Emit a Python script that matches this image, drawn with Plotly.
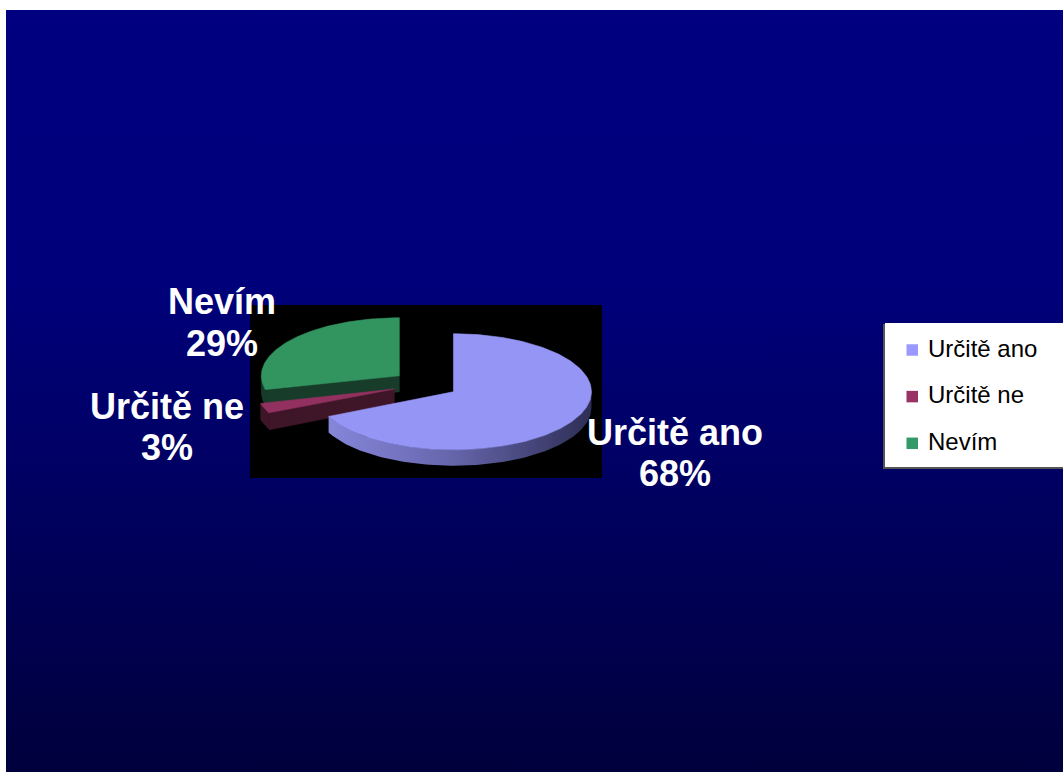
import numpy as np
import plotly.graph_objects as go

# Survey answers and their shares (percent)
labels = ["Určitě ano", "Určitě ne", "Nevím"]
shares = [68, 3, 29]

# Slice colours: top face, side face, legend swatch
top_colors = ["#9595F6", "#92305F", "#32945F"]
side_colors = ["#6a6ab4", "#3f1628", "#183c2a"]
legend_colors = ["#9999FF", "#993366", "#339966"]

W, H = 1063, 773

# Pie geometry (pixel units on the full-figure axes)
CX, CY = 425.5, 384.3
RX, RY = 138.0, 58.0
DEPTH = 16.0
EXPLODE = 0.24


def ell(cx, cy, theta, dy=0.0):
    t = np.radians(theta)
    return cx + RX * np.cos(t), cy - RY * np.sin(t) + dy


fig = go.Figure()

# Slide background with vertical gradient
fig.add_trace(go.Scatter(
    x=[6, W, W, 6, 6], y=[10, 10, 772, 772, 10],
    mode="none", fill="toself",
    fillgradient=dict(type="vertical", start=10, stop=772,
                      colorscale=[[0, "#000080"], [0.35, "#00007b"],
                                  [0.6, "#000064"], [1, "#00003c"]]),
    hoverinfo="skip", showlegend=False))

# Black plot area behind the pie
fig.add_trace(go.Scatter(
    x=[250, 602, 602, 250, 250], y=[305, 305, 478, 478, 305],
    mode="none", fill="toself", fillcolor="#000000",
    hoverinfo="skip", showlegend=False))

frac = np.array(shares, dtype=float) / sum(shares)
cum = np.concatenate([[0.0], np.cumsum(frac)])
t_start = 90 - 360 * cum[:-1]
t_end = 90 - 360 * cum[1:]
mid = (t_start + t_end) / 2
cxs = CX + EXPLODE * RX * np.cos(np.radians(mid))
cys = CY - EXPLODE * RY * np.sin(np.radians(mid))


def poly(xs, ys, color=None, gradient=None):
    kw = dict(x=list(xs), y=list(ys), mode="lines", fill="toself",
              line=dict(width=0.6, color=color if color else "rgba(0,0,0,0)"),
              hoverinfo="skip", showlegend=False)
    if gradient is not None:
        kw["fillgradient"] = gradient
        kw["line"] = dict(width=0)
    else:
        kw["fillcolor"] = color
    fig.add_trace(go.Scatter(**kw))


# Draw slices back to front
for k in np.argsort(cys):
    cx, cy = cxs[k], cys[k]
    # outer rim (front half only)
    lo, hi = max(t_end[k], -180.0), min(t_start[k], 0.0)
    if lo < hi:
        arc = np.linspace(lo, hi, 120)
        xt, yt = ell(cx, cy, arc)
        xb, yb = ell(cx, cy, arc[::-1], DEPTH)
        xs = np.concatenate([xt, xb, xt[:1]])
        ys = np.concatenate([yt, yb, yt[:1]])
        if k == 0:
            poly(xs, ys, gradient=dict(
                type="horizontal", start=float(xs.min()), stop=float(xs.max()),
                colorscale=[[0, "#8686da"], [0.45, "#6767ae"], [1, "#2e2e56"]]))
        else:
            poly(xs, ys, side_colors[k])
    # radial cut faces facing the viewer
    for edge, normal in ((t_start[k], t_start[k] + 90), (t_end[k], t_end[k] - 90)):
        if np.sin(np.radians(normal)) < -1e-6:
            rx, ry = ell(cx, cy, edge)
            poly([cx, rx, rx, cx, cx],
                 [cy, ry, ry + DEPTH, cy + DEPTH, cy], side_colors[k])
    # top face
    arc = np.linspace(t_start[k], t_end[k], 200)
    xa, ya = ell(cx, cy, arc)
    poly(np.concatenate([[cx], xa, [cx]]), np.concatenate([[cy], ya, [cy]]),
         top_colors[k])

# Slice labels: category name above, share below
label_pos = [(675, 432, 473), (166.5, 406.5, 447), (222, 301.5, 343)]
label_font = dict(family="Arial, Liberation Sans, sans-serif", size=36,
                  color="#FFFFFF")
for k in range(len(labels)):
    x, y_name, y_pct = label_pos[k]
    fig.add_annotation(x=x, y=y_name, xref="x", yref="y", showarrow=False,
                       text=f"<b>{labels[k]}</b>", xanchor="center",
                       yanchor="middle", font=label_font)
    fig.add_annotation(x=x, y=y_pct, xref="x", yref="y", showarrow=False,
                       text=f"<b>{shares[k]}%</b>", xanchor="center",
                       yanchor="middle", font=label_font)

# Legend box
shapes = [
    dict(type="rect", xref="x", yref="y", x0=883, y0=324, x1=1064, y1=469,
         fillcolor="#555555", line=dict(width=0), layer="above"),
    dict(type="rect", xref="x", yref="y", x0=885, y0=323, x1=1063, y1=467,
         fillcolor="#FFFFFF", line=dict(width=0), layer="above"),
]
row_y = [350, 396.6, 443.3]
for k in range(len(labels)):
    y = row_y[k]
    shapes.append(dict(type="rect", xref="x", yref="y", x0=906.5, x1=918,
                       y0=y - 5.75, y1=y + 5.75, fillcolor=legend_colors[k],
                       line=dict(width=0), layer="above"))
    fig.add_annotation(
        x=926, y=y - 2, xref="x", yref="y", showarrow=False,
        text=labels[k], xanchor="left", yanchor="middle",
        font=dict(family="Arial, Liberation Sans, sans-serif", size=24,
                  color="#000000"))

fig.update_layout(
    width=W, height=H, autosize=False,
    margin=dict(l=0, r=0, t=0, b=0, pad=0),
    paper_bgcolor="#FFFFFF", plot_bgcolor="#FFFFFF",
    showlegend=False, shapes=shapes,
    xaxis=dict(range=[0, W], visible=False, fixedrange=True),
    yaxis=dict(range=[H, 0], visible=False, fixedrange=True),
)

fig.write_html("out.html", config={"displayModeBar": False})
